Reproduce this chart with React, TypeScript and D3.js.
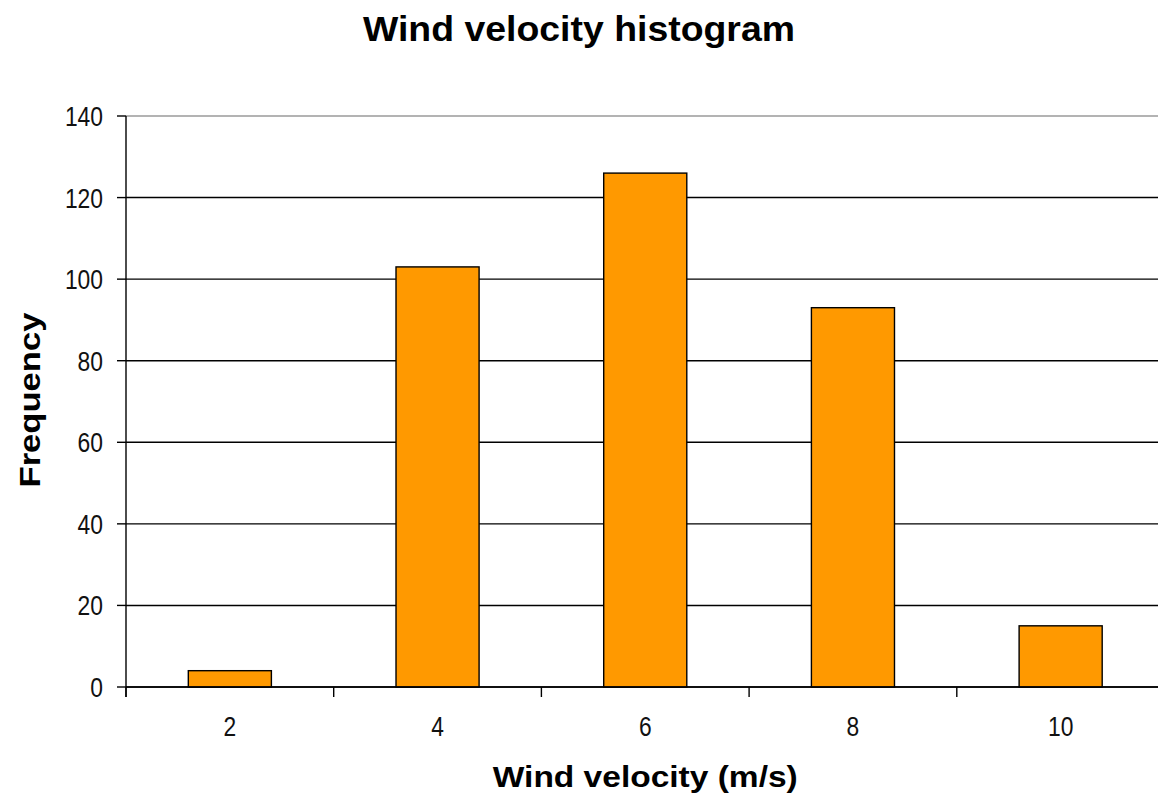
import React from "react";
import * as d3 from "d3";

// Histogram bins (m/s) and their counts
const categories: string[] = ["2", "4", "6", "8", "10"];
const frequencies: number[] = [4, 103, 126, 93, 15];
const yTicks: number[] = [0, 20, 40, 60, 80, 100, 120, 140];

const titleText = "Wind velocity histogram";
const xTitleText = "Wind velocity (m/s)";
const yTitleText = "Frequency";

const W = 1158;
const H = 796;
const plot = { left: 126, right: 1164.5, top: 116, bottom: 687 };

const FONT = "'Liberation Sans', Arial, sans-serif";
// narrow, tall digits for the tick labels
const DIGIT_W = 12.7;
const TICK_FONT = 27;

export default function App() {
  const x = d3
    .scaleBand<string>()
    .domain(categories)
    .range([plot.left, plot.right])
    .paddingInner(0.6)
    .paddingOuter(0.3);

  const y = d3.scaleLinear().domain([0, 140]).range([plot.bottom, plot.top]);

  const step = x.step();
  const boundaries = d3.range(categories.length + 1).map((i) => plot.left + i * step);

  return (
    <div style={{ position: "absolute", left: 0, top: 0 }}>
      <svg width={W} height={H} style={{ display: "block", background: "#fff" }}>
        {/* horizontal gridlines */}
        {yTicks.map((t) => (
          <line
            key={"g" + t}
            x1={plot.left}
            x2={W}
            y1={y(t)}
            y2={y(t)}
            stroke={t === 140 ? "#9a9a9a" : "#000"}
            strokeWidth={1.4}
          />
        ))}
        {/* y ticks and labels */}
        {yTicks.map((t) => {
          const s = String(t);
          return (
            <g key={"yt" + t}>
              <line x1={plot.left - 9} x2={plot.left} y1={y(t)} y2={y(t)} stroke="#000" strokeWidth={1.4} />
              <text
                x={103 - s.length * DIGIT_W}
                y={y(t) + 10}
                textLength={s.length * DIGIT_W}
                lengthAdjust="spacingAndGlyphs"
                fontFamily={FONT}
                fontSize={TICK_FONT}
                fill="#111"
              >
                {s}
              </text>
            </g>
          );
        })}
        {/* bars */}
        {categories.map((c, i) => (
          <rect
            key={"b" + c}
            x={x(c)!}
            y={y(frequencies[i])}
            width={x.bandwidth()}
            height={y(0) - y(frequencies[i])}
            fill="#FF9900"
            stroke="#000"
            strokeWidth={1.4}
          />
        ))}
        {/* axes */}
        <line x1={plot.left} x2={plot.left} y1={plot.top} y2={plot.bottom + 10} stroke="#000" strokeWidth={1.4} />
        <line x1={plot.left} x2={W} y1={plot.bottom} y2={plot.bottom} stroke="#000" strokeWidth={1.4} />
        {boundaries.map((bx, i) => (
          <line key={"xt" + i} x1={bx} x2={bx} y1={plot.bottom} y2={plot.bottom + 10} stroke="#000" strokeWidth={1.4} />
        ))}
        {categories.map((c) => (
          <text
            key={"xl" + c}
            x={x(c)! + x.bandwidth() / 2 - (c.length * DIGIT_W) / 2}
            y={736}
            textLength={c.length * DIGIT_W}
            lengthAdjust="spacingAndGlyphs"
            fontFamily={FONT}
            fontSize={TICK_FONT}
            fill="#111"
          >
            {c}
          </text>
        ))}
        {/* titles */}
        <text
          x={W / 2}
          y={41}
          textAnchor="middle"
          textLength={432}
          lengthAdjust="spacingAndGlyphs"
          fontFamily={FONT}
          fontWeight="bold"
          fontSize={35}
          fill="#000"
        >
          {titleText}
        </text>
        <text
          x={(plot.left + plot.right) / 2}
          y={787}
          textAnchor="middle"
          textLength={305}
          lengthAdjust="spacingAndGlyphs"
          fontFamily={FONT}
          fontWeight="bold"
          fontSize={30}
          fill="#000"
        >
          {xTitleText}
        </text>
        <text
          transform={`translate(40, ${(plot.top + plot.bottom) / 2 - 1.5}) rotate(-90)`}
          textAnchor="middle"
          textLength={175}
          lengthAdjust="spacingAndGlyphs"
          fontFamily={FONT}
          fontWeight="bold"
          fontSize={30}
          fill="#000"
        >
          {yTitleText}
        </text>
      </svg>
    </div>
  );
}
